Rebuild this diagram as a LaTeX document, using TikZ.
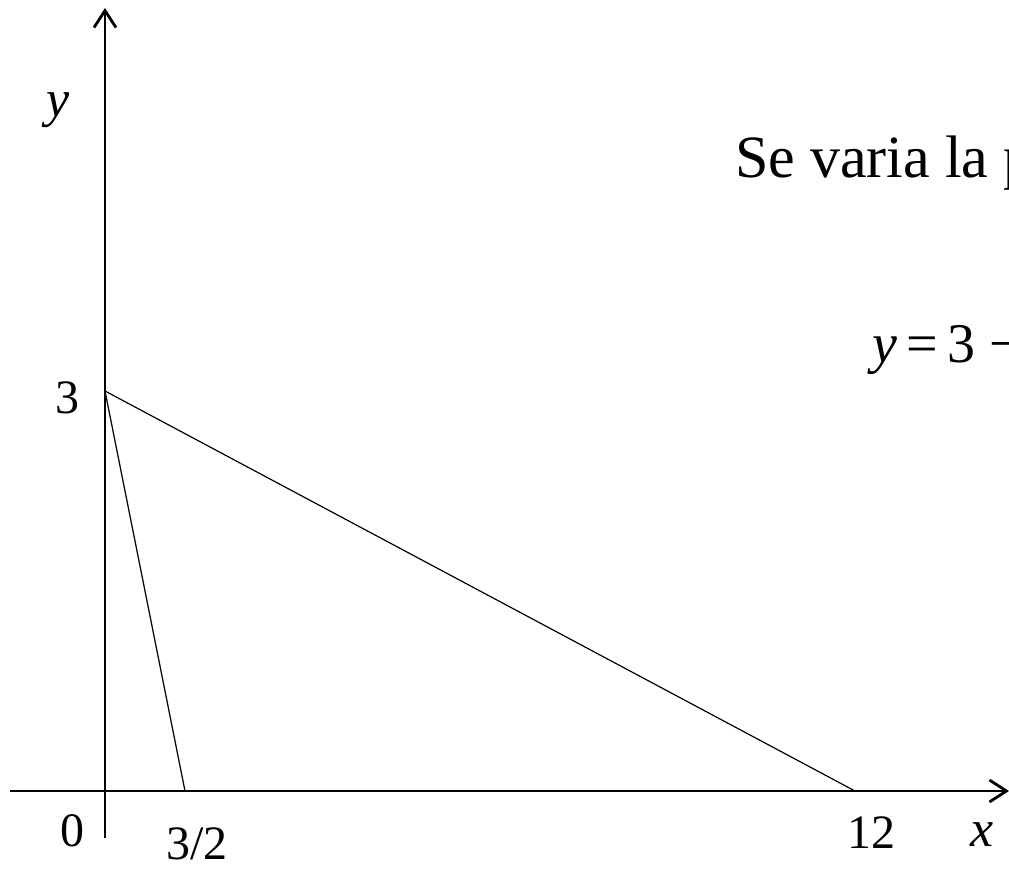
\documentclass[tikz,border=0pt]{standalone}
\usepackage{fontspec}
\setmainfont{Liberation Serif}
\usetikzlibrary{arrows.meta}
\begin{document}
\begin{tikzpicture}[x=1pt,y=1pt,
  axis/.style={line width=2.8pt,-{Straight Barb[length=17pt,width=22pt,line width=2.8pt]}},
  thin/.style={line width=1.2pt},
  lbl/.style={inner sep=0pt,font=\fontsize{48}{56}\selectfont},
  vlbl/.style={inner sep=0pt,font=\fontsize{52}{60}\selectfont\itshape}]
\useasboundingbox (0,0) rectangle (1009,868);
\coordinate (ybot) at (105,30);
\coordinate (ytop) at (105,860);
\coordinate (xl) at (10,77);
\coordinate (xr) at (1009,77);
\coordinate (A) at (105,477);
\coordinate (B) at (855,77);
\coordinate (C) at (185,77);
\draw[axis] (ybot) -- (ytop);
\draw[axis] (xl) -- (xr);
\draw[thin] (A) -- (B);
\draw[thin] (A) -- (C);
\node[lbl] (l3) at (67,470) {3};
\node[lbl] (l0) at (72,37) {0};
\node[lbl] (l32) at (197,24) {3/2};
\node[lbl] (l12) at (871,35) {12};
\node[vlbl] (lx) at (982,33) {x};
\node[vlbl] (ly) at (58,758) {y};
\node[inner sep=0pt,anchor=base west,font=\fontsize{60}{70}\selectfont] (t1) at (735,690) {Se varia la p};
\node[inner sep=0pt,anchor=base west,font=\fontsize{56}{64}\selectfont] (t2) at (872,505) {\textit{y}\hspace{9pt}=\hspace{10pt}3\hspace{14pt}−};
\end{tikzpicture}
\end{document}
